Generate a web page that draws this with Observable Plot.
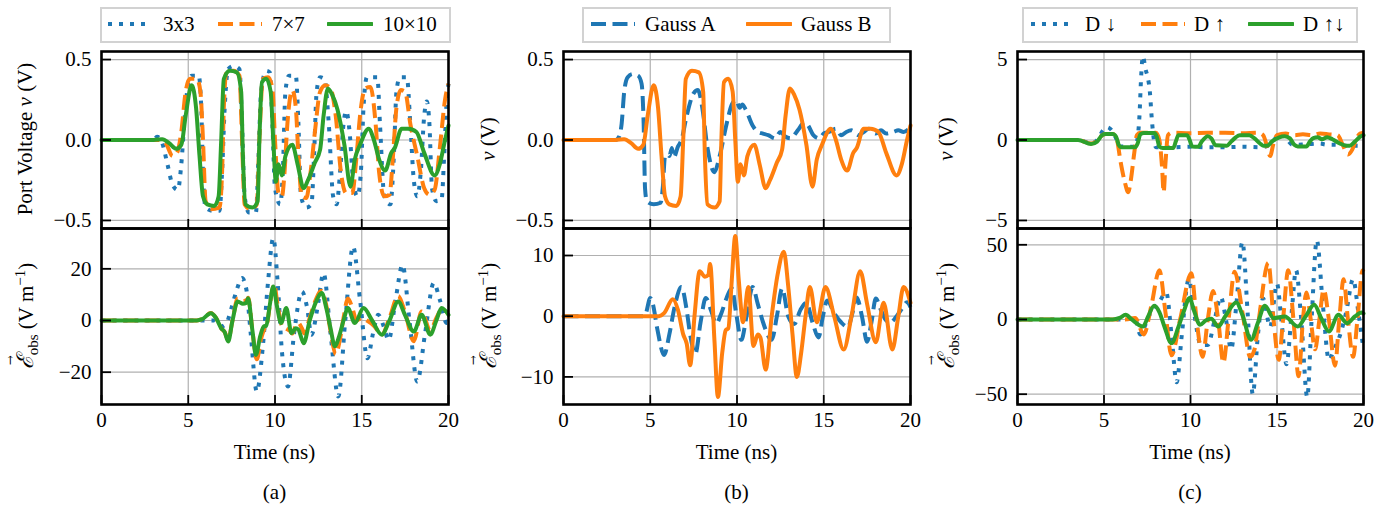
<!DOCTYPE html>
<html><head><meta charset="utf-8">
<script src="https://cdn.jsdelivr.net/npm/d3@7"></script>
<script src="https://cdn.jsdelivr.net/npm/@observablehq/plot@0.6"></script>
<style>
body{margin:0;background:#fff;}
#root{position:relative;width:1391px;height:506px;font-family:"Liberation Serif","Times New Roman",serif;color:#000;overflow:hidden;background:#fff}
#root svg text{font-family:"Liberation Serif","Times New Roman",serif;}
.txt{position:absolute;white-space:nowrap;font-size:21px;line-height:1;}
.rot{transform:translate(-50%,-50%) rotate(-90deg);}
.ctr{transform:translate(-50%,-50%);}
.lgbox{position:absolute;top:7px;height:36px;border:2px solid #d2d2d2;box-sizing:border-box;background:#fff}
.cal{position:relative;display:inline-block;font-family:"DejaVu Serif","Liberation Serif",serif;font-style:italic;font-size:23px;}
.cal .arr{position:absolute;left:4px;top:-10px;font-size:12px;font-style:normal;}
sub,sup{font-size:15px;line-height:0}
</style></head>
<body><div id="root"></div>
<script>
// ---------- data ----------
const xTicks = [0, 5, 10, 15, 20];
const yTicksVolt = [-0.5, 0, 0.5];
const yTicksVoltC = [-5, 0, 5];
const yTicksEA = [-20, 0, 20];
const yTicksEB = [-10, 0, 10];
const yTicksEC = [-50, 0, 50];

const legendA = ["3x3", "7×7", "10×10"];
const legendB = ["Gauss A", "Gauss B"];
const legendC = ["D ↓", "D ↑", "D ↑↓"];

// (a) top: port voltage (V)
const aTop3 = [[0,0],[3.0,0],[3.2,0.02],[3.5,-0.02],[3.8,-0.15],[4.1,-0.28],[4.4,-0.31],[4.6,-0.15],[4.8,0.15],[5.0,0.35],[5.2,0.40],[5.6,0.40],[5.75,0.2],[5.85,-0.2],[6.0,-0.42],[6.4,-0.44],[6.8,-0.44],[6.95,-0.2],[7.1,0.2],[7.3,0.44],[7.6,0.46],[7.95,0.44],[8.1,0.1],[8.25,-0.35],[8.5,-0.45],[8.9,-0.45],[9.05,-0.1],[9.2,0.3],[9.5,0.43],[9.7,0.42],[9.85,0.1],[10.0,-0.3],[10.3,-0.40],[10.45,-0.2],[10.6,0.3],[10.8,0.40],[11.2,0.40],[11.35,0.1],[11.5,-0.35],[11.8,-0.42],[12.1,-0.40],[12.25,-0.1],[12.4,0.3],[12.6,0.39],[12.85,0.38],[13.1,0.1],[13.35,-0.35],[13.55,-0.40],[13.75,-0.2],[13.95,0.1],[14.1,0.18],[14.3,0.05],[14.5,-0.25],[14.75,-0.35],[14.95,-0.2],[15.1,0.2],[15.3,0.39],[15.9,0.39],[16.05,0.1],[16.3,-0.35],[16.65,-0.40],[16.85,-0.1],[17.0,0.3],[17.2,0.39],[17.6,0.39],[17.8,0.1],[18.0,-0.25],[18.2,-0.35],[18.4,-0.2],[18.6,0.15],[18.75,0.24],[18.9,0.1],[19.05,-0.3],[19.3,-0.38],[19.6,-0.37],[19.75,-0.1],[19.9,0.25],[20,0.35]];
const aTop7 = [[0,0],[3.3,0],[3.7,-0.02],[4.1,-0.1],[4.35,-0.08],[4.6,0.05],[4.85,0.3],[5.1,0.38],[5.5,0.38],[5.7,0.3],[5.85,0],[6.0,-0.38],[6.3,-0.43],[6.8,-0.42],[6.95,-0.2],[7.05,0.2],[7.2,0.42],[7.6,0.43],[7.95,0.4],[8.1,0],[8.25,-0.4],[8.6,-0.43],[8.95,-0.4],[9.1,0],[9.3,0.38],[9.6,0.39],[9.85,0.32],[10.0,0],[10.2,-0.33],[10.4,-0.35],[10.55,-0.2],[10.7,0.08],[10.85,0.25],[11.0,0.31],[11.2,0.2],[11.35,-0.1],[11.55,-0.35],[11.8,-0.36],[12.05,-0.2],[12.3,0.05],[12.6,0.3],[12.9,0.34],[13.2,0.32],[13.5,0.15],[13.8,-0.2],[14.1,-0.33],[14.45,-0.33],[14.7,-0.1],[14.9,0.15],[15.2,0.32],[15.5,0.33],[15.8,0.1],[16.0,-0.2],[16.3,-0.35],[16.6,-0.34],[16.8,-0.1],[17.0,0.2],[17.25,0.31],[17.5,0.3],[17.8,0.1],[18.2,-0.1],[18.6,-0.3],[18.9,-0.34],[19.2,-0.31],[19.5,-0.05],[19.8,0.25],[20,0.35]];
const aTop10 = [[0,0],[3.0,0],[3.5,0.005],[3.9,-0.02],[4.3,-0.055],[4.6,-0.03],[4.85,0.15],[5.2,0.34],[5.45,0.2],[5.65,-0.1],[5.85,-0.35],[6.1,-0.40],[6.5,-0.41],[6.75,-0.35],[6.9,0],[7.05,0.38],[7.4,0.43],[7.8,0.42],[8.05,0.3],[8.15,-0.1],[8.3,-0.40],[8.7,-0.42],[9.0,-0.38],[9.1,0],[9.25,0.36],[9.5,0.38],[9.75,0.3],[9.9,0],[10.05,-0.26],[10.2,-0.15],[10.4,-0.22],[10.6,-0.1],[11.0,-0.03],[11.3,-0.15],[11.65,-0.30],[11.9,-0.25],[12.3,-0.14],[12.6,-0.06],[12.8,0.15],[13.05,0.32],[13.3,0.28],[13.6,0.19],[14.0,-0.03],[14.35,-0.29],[14.6,-0.12],[14.9,-0.03],[15.4,0.07],[15.7,0.0],[16.0,-0.12],[16.35,-0.19],[16.7,-0.08],[16.9,-0.05],[17.3,0.07],[17.7,0.07],[18.15,0.05],[18.6,-0.08],[19.2,-0.22],[19.5,-0.15],[19.8,0.0],[20,0.09]];

// (a) bottom: observed field (V/m)
const aBot3 = [[0,0],[6.5,0],[6.9,-2.3],[7.2,-1],[7.5,5],[7.8,12],[8.1,16.4],[8.35,12],[8.6,-5],[8.95,-27.5],[9.3,-10],[9.6,15],[9.9,31.9],[10.15,15],[10.4,-12],[10.75,-25.5],[11.1,-5],[11.55,11.2],[11.85,5],[12.1,-5.5],[12.45,5],[12.8,18.3],[13.2,-5],[13.65,-29.4],[14.05,0],[14.5,28.6],[14.9,8],[15.33,-14.6],[15.65,-5],[15.95,2.2],[16.25,-2],[16.55,-7.5],[16.95,8],[17.35,21.5],[17.75,0],[18.2,-23.6],[18.65,-5],[19.15,14.5],[19.5,8],[19.9,-1],[20,-1]];
const aBot7 = [[0,0],[5.5,0],[5.8,0.5],[6.3,2.9],[6.6,1],[6.9,-3],[7.1,-4.5],[7.3,-7.5],[7.55,0],[7.85,8.5],[8.15,7.5],[8.4,8],[8.45,8.8],[8.7,-4],[8.95,-15],[9.2,-7],[9.4,-3],[9.55,-1],[9.75,8],[9.95,14],[10.15,6],[10.4,-2],[10.6,-3],[10.85,-4],[11.0,-5],[11.2,-2],[11.35,-1],[11.55,-3],[11.7,-5],[12.0,1],[12.35,8],[12.65,11.5],[12.95,6],[13.2,-4],[13.5,-13],[13.75,-7],[13.95,1],[14.2,8.5],[14.45,5],[14.7,0],[15.0,1],[15.3,0],[15.7,-2],[16.15,-5.5],[16.6,1],[17.1,9.5],[17.5,3],[18.0,-8],[18.45,3.5],[18.95,-4],[19.3,1],[19.6,4],[20,3]];
const aBot10 = [[0,0],[5.5,0],[5.8,0.5],[6.3,2.8],[6.6,1],[6.9,-3],[7.1,-4.5],[7.3,-8.1],[7.55,0],[7.85,7.4],[8.15,6.5],[8.35,6.8],[8.45,8.6],[8.7,-4],[8.9,-13.3],[9.15,-6],[9.35,-2.3],[9.5,-2],[9.7,6],[9.9,13.2],[10.1,6],[10.35,-1],[10.65,4.8],[10.95,-4.9],[11.2,-3],[11.35,-3.5],[11.65,-8.8],[12.0,0],[12.35,7],[12.7,10.6],[12.95,5],[13.2,-3],[13.45,-10],[13.7,-6],[13.95,0],[14.2,4.8],[14.6,-1],[15.1,4.8],[15.6,0],[16.15,-5.5],[16.6,0],[17.1,7.4],[17.5,2],[18.0,-4.3],[18.45,2.2],[18.95,-5.5],[19.3,0],[19.6,4.8],[20,2.2]];

// (b)
const bTopA = [[0,0],[3.0,0],[3.2,0.02],[3.35,0.1],[3.5,0.3],[3.7,0.39],[4.0,0.41],[4.3,0.40],[4.5,0.35],[4.62,0.1],[4.7,-0.3],[4.8,-0.38],[5.2,-0.40],[5.6,-0.39],[5.72,-0.3],[5.85,-0.1],[6.0,-0.09],[6.1,-0.1],[6.25,-0.05],[6.35,-0.11],[6.6,-0.04],[6.8,0],[7.1,0.15],[7.5,0.29],[7.75,0.31],[8.0,0.2],[8.3,-0.05],[8.7,-0.2],[9.0,-0.1],[9.4,0.1],[9.7,0.22],[9.95,0.25],[10.15,0.2],[10.3,0.22],[10.5,0.19],[10.9,0.09],[11.2,0.05],[11.5,0.04],[11.8,0.03],[12.2,0.01],[12.5,0.05],[12.8,0.02],[13.1,0.01],[13.5,0.06],[13.9,0.11],[14.1,0.09],[14.4,0.03],[14.75,0.01],[15.0,0.04],[15.3,0.05],[15.7,0.07],[16.0,0.03],[16.3,0.05],[16.6,0.06],[17.0,0.03],[17.3,0.05],[17.6,0.07],[18.0,0.04],[18.3,0.06],[18.6,0.04],[19.0,0.05],[19.3,0.06],[19.6,0.05],[20,0.08]];
const bTopB = aTop10;
const bBotA = [[0,0],[4.6,0],[4.75,0.5],[5.0,3],[5.15,2],[5.4,-2],[5.8,-6.4],[6.1,-3],[6.4,1.5],[6.8,4.8],[7.1,1],[7.3,-3],[7.6,-6.2],[7.9,-1],[8.2,3],[8.5,1],[8.8,-1.2],[9.1,0.5],[9.4,3],[9.7,4.6],[9.95,0.5],[10.25,-3.9],[10.55,0],[10.9,4.8],[11.2,2],[11.5,-1],[12.0,-3.9],[12.3,0],[12.6,4.6],[12.95,0],[13.3,-1.3],[13.65,1],[14.0,2.2],[14.35,-1],[14.7,-3.5],[14.95,0],[15.2,2.6],[15.6,0.5],[16.0,-1],[16.4,-1.8],[16.65,0.5],[16.9,3.1],[17.2,0],[17.5,-4.2],[17.75,-1],[18.0,2.9],[18.3,1],[18.6,-0.7],[18.85,-1],[19.2,0],[19.5,1.2],[19.8,2.3],[20,1.5]];
const bBotB = aBot10;

// (c)
const cTopD = [[0,0],[3.5,0],[4.25,-0.2],[4.6,0],[4.95,0.6],[5.15,0.8],[5.45,0.6],[5.7,0.1],[5.9,-0.4],[6.8,-0.42],[6.95,0.2],[7.05,1.5],[7.15,4.0],[7.25,5.2],[7.4,4.4],[7.55,3.8],[7.65,3.0],[7.75,1.5],[7.85,0.3],[8.0,-0.45],[9.0,-0.45],[10.0,-0.42],[11.0,-0.45],[12.0,-0.45],[13.0,-0.42],[14.0,-0.45],[14.6,-0.3],[14.9,0.1],[15.3,0.37],[15.6,0],[15.9,-0.3],[16.5,-0.28],[17.0,-0.25],[17.5,-0.22],[17.8,-0.28],[18.5,-0.3],[19.0,-0.35],[19.5,-0.35],[20,-0.35]];
const cTopU = [[0,0],[3.5,0],[4.25,-0.22],[4.6,-0.05],[4.9,0.3],[5.1,0.37],[5.5,0.37],[5.75,0],[5.95,-1.3],[6.2,-2.6],[6.4,-3.25],[6.55,-2.5],[6.75,-0.8],[6.9,0.3],[7.1,0.45],[8.0,0.45],[8.2,0],[8.35,-1.6],[8.45,-3.25],[8.55,-1.5],[8.7,0.3],[8.9,0.45],[10.0,0.42],[11.0,0.45],[12.0,0.45],[13.0,0.42],[13.9,0.45],[14.2,0.3],[14.45,-0.5],[14.6,-1.0],[14.8,-0.2],[15.0,0.3],[15.5,0.4],[16.0,0.3],[16.5,0.35],[17.0,0.3],[17.5,0.4],[18.0,0.35],[18.5,0.3],[18.8,-0.3],[19.1,-0.9],[19.35,-0.6],[19.6,0.1],[19.8,0.4],[20,0.45]];
const cTopUD = [[0,0],[3.5,0],[4.25,-0.25],[4.6,-0.1],[4.9,0.3],[5.1,0.37],[5.5,0.37],[5.7,0.2],[5.85,-0.3],[6.0,-0.45],[6.8,-0.45],[6.95,-0.2],[7.1,0.35],[7.3,0.43],[7.9,0.43],[8.05,0.2],[8.2,-0.4],[8.4,-0.5],[9.0,-0.5],[9.15,-0.1],[9.3,0.3],[9.8,0.3],[9.95,0],[10.1,-0.4],[10.45,-0.42],[10.65,-0.1],[11.0,0.23],[11.2,0.1],[11.45,-0.32],[12.1,-0.35],[12.35,-0.1],[12.6,0.15],[12.85,0.3],[13.4,0.3],[13.7,0.1],[14.0,-0.2],[14.2,-0.35],[14.45,-0.35],[14.7,-0.1],[15.1,0.15],[15.45,0.23],[15.75,0.1],[16.0,-0.3],[16.2,-0.4],[16.7,-0.4],[16.9,-0.1],[17.1,0.12],[17.35,0.17],[17.6,0.05],[17.9,0.17],[18.2,0.05],[18.6,-0.2],[19.0,-0.35],[19.2,-0.35],[19.5,-0.1],[19.8,0.2],[20,0.3]];
const cBotD = [[0,0],[6.2,0],[6.78,1],[7.1,-10],[7.45,-2],[7.8,7],[8.1,10],[8.6,18],[8.9,-10],[9.2,-42],[9.5,-10],[9.9,27],[10.2,5],[10.6,-17],[11.0,-17],[11.4,0],[11.75,15],[12.05,0],[12.35,-20],[12.65,10],[13.0,52],[13.3,5],[13.6,-50],[13.9,-10],[14.2,14],[14.6,-5],[15.0,24],[15.25,0],[15.55,-30],[15.85,5],[16.1,33],[16.4,0],[16.75,-52],[17.0,0],[17.3,53],[17.65,10],[18.0,-27],[18.3,-20],[18.6,-12],[19.0,5],[19.4,27],[19.7,5],[20,-20]];
const cBotU = [[0,0],[6.2,0],[6.8,1],[7.3,-10],[7.75,10],[8.2,33],[8.55,5],[8.9,-24],[9.4,0],[10.05,31],[10.35,0],[10.7,-25],[11.0,0],[11.3,19],[11.6,0],[11.9,-29],[12.2,0],[12.55,32],[13.0,5],[13.45,-25],[13.7,-20],[13.95,0],[14.5,38],[14.8,0],[15.1,-27],[15.35,0],[15.65,33],[15.95,0],[16.25,-38],[16.5,0],[16.7,18],[16.95,0],[17.2,-20],[17.45,0],[17.7,20],[18.0,0],[18.35,-31],[18.6,0],[18.85,27],[19.1,0],[19.4,-25],[19.65,0],[19.95,33],[20,32]];
const cBotUD = [[0,0],[5.5,0],[5.9,1],[6.25,3.1],[6.6,0],[7.25,-4.7],[7.55,2],[7.9,9.2],[8.2,5],[8.5,-5],[8.9,-15.8],[9.3,-5],[9.6,5],[9.95,14.3],[10.2,6],[10.55,-3.6],[10.9,-0.5],[11.2,0.5],[11.6,-4.7],[12.0,2],[12.65,11.4],[13.0,3],[13.5,-13.6],[13.9,-2],[14.3,9.2],[14.8,0.9],[15.45,2],[16.2,-4.7],[16.65,2],[17.15,9.8],[17.55,1],[18.0,-8],[18.55,3.1],[19.05,-2.5],[19.5,2],[19.9,4.7],[20,4]];

// ---------- styles ----------
const BLUE = "#1f77b4", ORANGE = "#ff7f0e", GREEN = "#2ca02c";
const LW = 4;
const DOT = "4,7", DASH = "15,6.5";
const SERIF = "'Liberation Serif','Times New Roman',serif";
const FS = 21;

// ---------- layout ----------
const root = document.getElementById("root");
const cols = [{fl:101, fr:448}, {fl:563, fr:910}, {fl:1017, fr:1363}];
const ROWS = [{ft:51, fb:228}, {ft:228, fb:404}];

function makePanel(col, row, yDomain, yTicks, yFmt, series) {
  const PADL = 80, PADR = 20;
  const {ft, fb} = ROWS[row];
  const mt = 10, mb = row === 0 ? 10 : 45;
  const svgTop = ft - mt;
  const fw = col.fr - col.fl, fh = fb - ft;
  const width = fw + PADL + PADR, height = fh + mt + mb;
  const marks = [
    Plot.gridX(xTicks, {x: d => d, stroke: "#b0b0b0", strokeOpacity: 1, strokeWidth: 1.2}),
    Plot.gridY(yTicks, {y: d => d, stroke: "#b0b0b0", strokeOpacity: 1, strokeWidth: 1.2}),
    ...series.map(s => Plot.line(s.data, {
      x: d => d[0], y: d => d[1], stroke: s.color, strokeWidth: LW,
      strokeDasharray: s.dash || null, strokeLinecap: s.dash ? "butt" : "round",
      strokeLinejoin: "round", curve: "monotone-x"})),
    Plot.tickX(xTicks, {x: d => d, insetTop: fh - 9, stroke: "black", strokeWidth: 1.8}),
    Plot.tickY(yTicks, {y: d => d, insetRight: fw - 10, stroke: "black", strokeWidth: 1.8}),
    Plot.axisY({ticks: yTicks, tickSize: 0, tickPadding: 10, tickFormat: yFmt, fontSize: FS, fontFamily: SERIF, label: null}),
    Plot.frame({stroke: "black", strokeWidth: 2.6})
  ];
  if (row === 1) marks.push(Plot.axisX({ticks: xTicks, tickSize: 0, tickPadding: 8, tickFormat: d3.format("d"), fontSize: FS, fontFamily: SERIF, label: null}));
  const svg = Plot.plot({
    width, height, marginLeft: PADL, marginRight: PADR, marginTop: mt, marginBottom: mb,
    x: {domain: [0, 20], axis: null},
    y: {domain: yDomain, axis: null},
    style: {background: "transparent", overflow: "visible", maxWidth: "none", fontFamily: SERIF},
    marks
  });
  svg.style.position = "absolute";
  svg.style.left = (col.fl - PADL) + "px";
  svg.style.top = svgTop + "px";
  root.appendChild(svg);
}

function addText(html, x, y, cls) {
  const d = document.createElement("div");
  d.className = "txt " + cls;
  d.style.left = x + "px";
  d.style.top = y + "px";
  d.innerHTML = html;
  root.appendChild(d);
}

const f1 = d3.format(".1f"), f0 = d3.format("d");

// column (a)
makePanel(cols[0], 0, [-0.55, 0.55], yTicksVolt, f1, [
  {data: aTop3, color: BLUE, dash: DOT}, {data: aTop7, color: ORANGE, dash: DASH}, {data: aTop10, color: GREEN}]);
makePanel(cols[0], 1, [-32.5, 35.6], yTicksEA, f0, [
  {data: aBot3, color: BLUE, dash: DOT}, {data: aBot7, color: ORANGE, dash: DASH}, {data: aBot10, color: GREEN}]);
// column (b)
makePanel(cols[1], 0, [-0.55, 0.55], yTicksVolt, f1, [
  {data: bTopA, color: BLUE, dash: DASH}, {data: bTopB, color: ORANGE}]);
makePanel(cols[1], 1, [-14.55, 14.45], yTicksEB, f0, [
  {data: bBotA, color: BLUE, dash: DASH}, {data: bBotB, color: ORANGE}]);
// column (c)
makePanel(cols[2], 0, [-5.5, 5.5], yTicksVoltC, f0, [
  {data: cTopD, color: BLUE, dash: DOT}, {data: cTopU, color: ORANGE, dash: DASH}, {data: cTopUD, color: GREEN}]);
makePanel(cols[2], 1, [-56.9, 60.9], yTicksEC, f0, [
  {data: cBotD, color: BLUE, dash: DOT}, {data: cBotU, color: ORANGE, dash: DASH}, {data: cBotUD, color: GREEN}]);

// axis titles
const eLabel = '<span class="cal">ℰ<span class="arr">→</span></span><sub>obs</sub> (V m<sup>−1</sup>)';
addText('Port Voltage <i>v</i> (V)', 25, 139, "rot");
addText(eLabel, 25, 316, "rot");
addText('<i>v</i> (V)', 488, 139, "rot");
addText(eLabel, 488, 316, "rot");
addText('<i>v</i> (V)', 946, 139, "rot");
addText(eLabel, 946, 316, "rot");
const captions = ["(a)", "(b)", "(c)"];
cols.forEach((c, i) => {
  const cx = (c.fl + c.fr) / 2;
  addText("Time (ns)", cx, 452, "ctr");
  addText(captions[i], cx, 492, "ctr");
});

// legends
function legend(box, items) {
  const b = document.createElement("div");
  b.className = "lgbox";
  b.style.left = box[0] + "px";
  b.style.width = (box[1] - box[0]) + "px";
  root.appendChild(b);
  items.forEach(it => {
    const ns = "http://www.w3.org/2000/svg";
    const s = document.createElementNS(ns, "svg");
    s.setAttribute("width", 46); s.setAttribute("height", 10);
    s.style.position = "absolute"; s.style.left = it.sx + "px"; s.style.top = "19px";
    const l = document.createElementNS(ns, "line");
    l.setAttribute("x1", 1); l.setAttribute("x2", 45); l.setAttribute("y1", 5); l.setAttribute("y2", 5);
    l.setAttribute("stroke", it.color); l.setAttribute("stroke-width", LW);
    if (it.dash) { l.setAttribute("stroke-dasharray", it.dash); l.setAttribute("stroke-linecap", "butt"); }
    else l.setAttribute("stroke-linecap", "round");
    s.appendChild(l);
    root.appendChild(s);
    const t = document.createElement("div");
    t.className = "txt";
    t.style.left = it.tx + "px"; t.style.top = "14px";
    t.textContent = it.label;
    root.appendChild(t);
  });
}
legend([100, 451], [
  {sx: 107, tx: 163, color: BLUE, dash: DOT, label: legendA[0]},
  {sx: 217, tx: 272, color: ORANGE, dash: DASH, label: legendA[1]},
  {sx: 327, tx: 383, color: GREEN, label: legendA[2]}]);
legend([582, 891], [
  {sx: 590, tx: 645, color: BLUE, dash: DASH, label: legendB[0]},
  {sx: 746, tx: 801, color: ORANGE, label: legendB[1]}]);
legend([1022, 1358], [
  {sx: 1030, tx: 1085, color: BLUE, dash: DOT, label: legendC[0]},
  {sx: 1140, tx: 1194, color: ORANGE, dash: DASH, label: legendC[1]},
  {sx: 1248, tx: 1303, color: GREEN, label: legendC[2]}]);
</script>
</body></html>
